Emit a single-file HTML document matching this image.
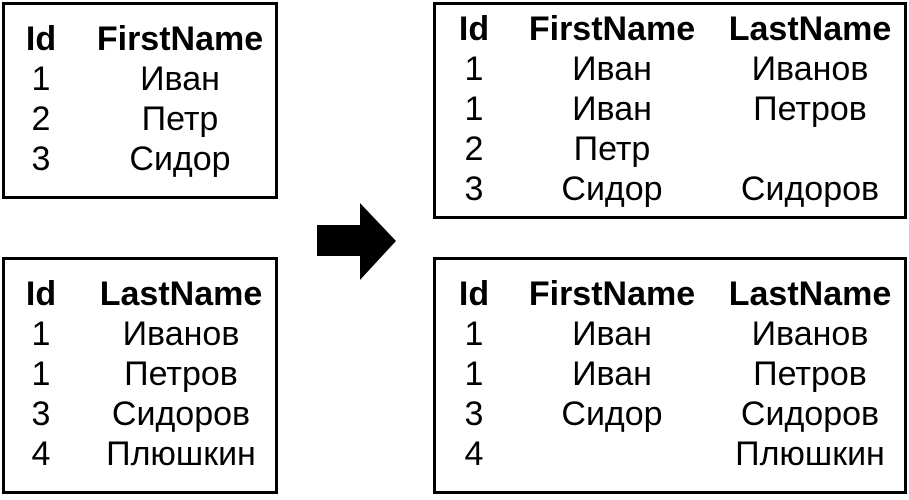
<!DOCTYPE html>
<html><head><meta charset="utf-8"><style>html,body{margin:0;padding:0;background:#fff}</style></head>
<body>
<svg width="909" height="495" xmlns="http://www.w3.org/2000/svg" font-family="Liberation Sans, sans-serif" font-size="34" text-anchor="middle">
<g fill="none" stroke="#000" stroke-width="3">
<rect x="3.5" y="3.5" width="273" height="194"/>
<rect x="3.5" y="258.5" width="273" height="234"/>
<rect x="434.5" y="3.5" width="471" height="214"/>
<rect x="434.5" y="258.5" width="471" height="234"/>
</g>
<polygon points="317,225 360,225 360,203 396,241 360,280 360,256 317,256" fill="#000"/>
<g font-weight="bold">
<text x="41" y="50">Id</text><text x="180" y="50">FirstName</text>
<text x="41" y="305">Id</text><text x="181" y="305">LastName</text>
<text x="474" y="40">Id</text><text x="612" y="40">FirstName</text><text x="810" y="40">LastName</text>
<text x="474" y="305">Id</text><text x="612" y="305">FirstName</text><text x="810" y="305">LastName</text>
</g>
<text x="41" y="90">1</text><text x="180" y="90">Иван</text>
<text x="41" y="130">2</text><text x="180" y="130">Петр</text>
<text x="41" y="170">3</text><text x="180" y="170">Сидор</text>

<text x="41" y="345">1</text><text x="181" y="345">Иванов</text>
<text x="41" y="385">1</text><text x="181" y="385">Петров</text>
<text x="41" y="425">3</text><text x="181" y="425">Сидоров</text>
<text x="41" y="465">4</text><text x="181" y="465">Плюшкин</text>

<text x="474" y="80">1</text><text x="612" y="80">Иван</text><text x="810" y="80">Иванов</text>
<text x="474" y="120">1</text><text x="612" y="120">Иван</text><text x="810" y="120">Петров</text>
<text x="474" y="160">2</text><text x="612" y="160">Петр</text>
<text x="474" y="200">3</text><text x="612" y="200">Сидор</text><text x="810" y="200">Сидоров</text>

<text x="474" y="345">1</text><text x="612" y="345">Иван</text><text x="810" y="345">Иванов</text>
<text x="474" y="385">1</text><text x="612" y="385">Иван</text><text x="810" y="385">Петров</text>
<text x="474" y="425">3</text><text x="612" y="425">Сидор</text><text x="810" y="425">Сидоров</text>
<text x="474" y="465">4</text><text x="810" y="465">Плюшкин</text>
</svg>
</body></html>
